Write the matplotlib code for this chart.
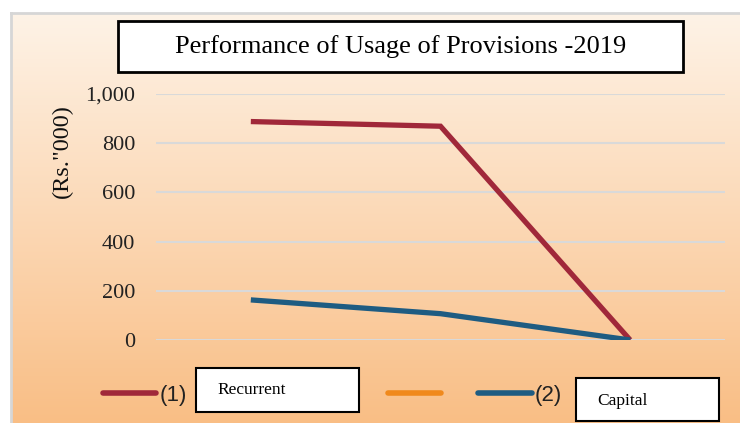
import numpy as np
import matplotlib.pyplot as plt
from matplotlib.patches import Rectangle
from matplotlib.lines import Line2D
from matplotlib.ticker import FuncFormatter

# data
categories = ["A", "B", "C"]
recurrent = [888, 869, 0]
capital = [163, 107, 0]
y_ticks = [0, 200, 400, 600, 800, 1000]

red = "#a0283a"
blue = "#1e5c82"
orange = "#f0891c"

W, H = 740, 423
fig = plt.figure(figsize=(W / 100, H / 100), dpi=100)
fig.patch.set_facecolor("white")

def fx(px):
    return px / W

def fy(py):
    return 1 - py / H

# gradient background frame
bg = fig.add_axes([fx(11), 0, 1 - fx(11), fy(13)])
grad = np.linspace(0, 1, 256).reshape(-1, 1)
top = np.array([254, 243, 231]) / 255
bot = np.array([249, 190, 133]) / 255
img = top + (bot - top) * grad[..., None]
bg.imshow(img, aspect="auto", extent=[0, 1, 0, 1])
bg.set_axis_off()
fig.add_artist(Line2D([fx(11), fx(11)], [0, fy(13)], color="#d6d6d6", lw=2))
fig.add_artist(Line2D([fx(11), 1], [fy(13), fy(13)], color="#d6d6d6", lw=2))

# main axes
ax = fig.add_axes([fx(156), fy(340), fx(725) - fx(156), fy(94) - fy(340)])
ax.patch.set_alpha(0)
x = np.arange(len(categories))
ax.plot(x, recurrent, color=red, lw=3.8, solid_capstyle="butt", solid_joinstyle="miter", zorder=3)
ax.plot(x, capital, color=blue, lw=3.8, solid_capstyle="butt", solid_joinstyle="miter", zorder=3)
ax.set_xlim(-0.5, 2.5)
ax.set_ylim(0, 1000)
ax.set_yticks(y_ticks)
ax.yaxis.set_major_formatter(FuncFormatter(lambda v, p: f"{int(v):,}"))
ax.set_xticks([])
ax.grid(axis="y", color="#d9d9d9", lw=1.5)
ax.set_axisbelow(True)
ax.tick_params(axis="y", length=0, pad=15, labelsize=16)
for lab in ax.get_yticklabels():
    lab.set_family("Liberation Serif")
    lab.set_color("#222222")
for s in ax.spines.values():
    s.set_visible(False)

fig.text(fx(62), fy(151), '(Rs."000)', rotation=90, ha="center", va="center",
         fontsize=17.5, family="Liberation Serif", color="#111111")

# title box
fig.add_artist(Rectangle((fx(118), fy(72)), fx(683) - fx(118), fy(21) - fy(72),
                         facecolor="white", edgecolor="black", lw=2))
fig.text(fx(401), fy(47), "Performance of Usage of Provisions -2019", ha="center", va="center",
         fontsize=19, family="Liberation Serif", color="black")

# legend
ly = fy(393)
fig.add_artist(Line2D([fx(103), fx(156)], [ly, ly], color=red, lw=4, solid_capstyle="round"))
fig.text(fx(160), fy(395), "(1)", ha="left", va="center", fontsize=16, family="Liberation Sans", color="#222222")
fig.add_artist(Rectangle((fx(196), fy(412)), fx(359) - fx(196), fy(368) - fy(412),
                         facecolor="white", edgecolor="black", lw=1.5))
fig.text(fx(217), fy(390), "Recurrent", ha="left", va="center", fontsize=12.5, family="Liberation Serif")
fig.add_artist(Line2D([fx(388), fx(441)], [ly, ly], color=orange, lw=4, solid_capstyle="round"))
fig.add_artist(Line2D([fx(478), fx(532)], [ly, ly], color=blue, lw=4, solid_capstyle="round"))
fig.text(fx(535), fy(395), "(2)", ha="left", va="center", fontsize=16, family="Liberation Sans", color="#222222")
fig.add_artist(Rectangle((fx(576), fy(421)), fx(719) - fx(576), fy(378) - fy(421),
                         facecolor="white", edgecolor="black", lw=1.5))
fig.text(fx(597), fy(401), "Capital", ha="left", va="center", fontsize=12.5, family="Liberation Serif")

fig.savefig("out.png", dpi=100)
